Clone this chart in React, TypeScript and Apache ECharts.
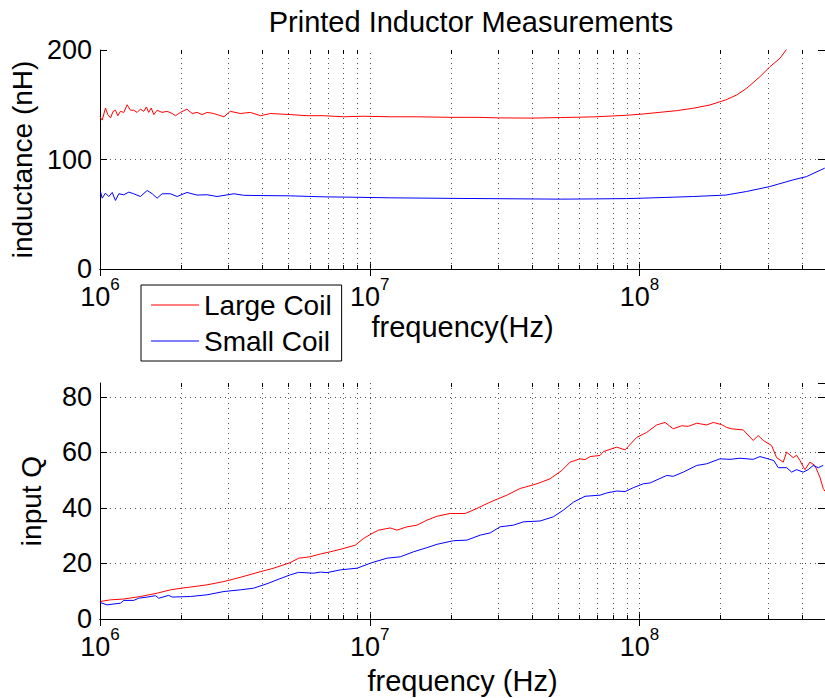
import React, { useEffect, useRef } from 'react';
import * as echarts from 'echarts';

const FONT = '"Liberation Sans", Arial, Helvetica, sans-serif';
const TITLE = 'Printed Inductor Measurements';
const NAME_LARGE = 'Large Coil';
const NAME_SMALL = 'Small Coil';
const X_MIN_HZ = 1e6;
const X_MAX_HZ = 4.87e8;
const L_MAX = 200;
const L_INTERVAL = 100;
const Q_MAX = 85;
const Q_INTERVAL = 20;

// [frequency (MHz), inductance (nH)]
const largeCoilL: number[][] = [
  [1.0, 139], [1.019, 136], [1.048, 147], [1.069, 141], [1.094, 138], [1.119, 144], [1.141, 145],
  [1.164, 140], [1.191, 144], [1.225, 143], [1.261, 150], [1.297, 145], [1.334, 145], [1.373, 143],
  [1.412, 146], [1.453, 144], [1.486, 148], [1.516, 143], [1.548, 147], [1.583, 141], [1.628, 145],
  [1.699, 143], [1.774, 144], [1.852, 142], [1.904, 140], [1.987, 143], [2.1, 146], [2.195, 142],
  [2.29, 143], [2.39, 141], [2.495, 143], [2.64, 142], [2.88, 139], [3.04, 144], [3.31, 142],
  [3.61, 143], [3.93, 140], [4.29, 142], [5.07, 141], [5.85, 140], [6.74, 140], [8.0, 139],
  [9.5, 139.5], [12, 139], [15, 139], [20, 138.5], [25, 138.5], [30, 138], [40, 137.8],
  [50.8, 138.3], [67.5, 138.9], [89.7, 140.4], [103.3, 141.6], [119.1, 143.1], [137.3, 144.6],
  [158.2, 146.8], [182.4, 149.8], [208.6, 154.4], [229, 158.9], [249.5, 165], [279.5, 175.6],
  [304.3, 184.7], [331.5, 192.4], [351, 200.6], [370, 208],
];

const smallCoilL: number[][] = [
  [1.004, 70.8], [1.019, 64.7], [1.048, 69.3], [1.078, 66.2], [1.11, 69.9], [1.141, 62.6],
  [1.174, 68.7], [1.225, 67.8], [1.279, 70.2], [1.334, 68.7], [1.412, 66.2], [1.496, 71.7],
  [1.561, 68.7], [1.628, 64.7], [1.699, 68.7], [1.824, 68.7], [1.932, 66.2], [2.1, 69.9],
  [2.29, 67.5], [2.495, 67.8], [2.716, 66.2], [3.14, 68.7], [3.41, 67.3], [3.82, 67.1],
  [5.07, 66.8], [6.74, 65.9], [8.97, 65.5], [11.9, 65], [20, 64.5], [30, 64.2], [50.8, 63.8],
  [67.5, 64.0], [89.7, 64.3], [103.3, 64.7], [158.2, 66.2], [208.6, 67.5], [249.5, 70.8],
  [304, 75.3], [371, 81.4], [416, 84.4], [486, 92.1],
];

// [frequency (MHz), input Q]
const largeCoilQ: number[][] = [
  [1.004, 6.3], [1.094, 6.9], [1.225, 7.2], [1.412, 8.1], [1.628, 9.3], [1.824, 10.5], [1.998, 11.1],
  [2.163, 11.5], [2.49, 12.3], [2.88, 13.5], [3.31, 15.0], [3.82, 16.7], [4.4, 18.3], [5.07, 20.3],
  [5.45, 21.9], [6.0, 22.4], [6.56, 23.4], [7.14, 24.2], [8.0, 25.4], [8.84, 26.6], [9.48, 29.0],
  [10.19, 30.8], [10.78, 32.0], [11.91, 32.8], [12.61, 32.0], [13.73, 33.2], [14.96, 33.8],
  [16.29, 35.6], [17.74, 37.0], [19.87, 38.0], [22.58, 38.0], [24.95, 39.8], [27.94, 42.1],
  [32.22, 44.6], [36.09, 47.0], [41.63, 48.7], [46.6, 50.5], [51.5, 53.5], [55.3, 56.5],
  [60.2, 57.7], [62.8, 57.4], [65.6, 58.5], [71.4, 58.9], [73.5, 60.3], [82.3, 61.9], [88.4, 60.9],
  [97.6, 65.4], [106.3, 67.2], [115.8, 69.9], [124.3, 70.8], [133.4, 68.5], [143.3, 69.6],
  [151.6, 69.4], [162.9, 70.5], [177.4, 69.9], [187.7, 70.8], [201.6, 70.0], [210.4, 69.0],
  [219.6, 68.5], [242.3, 68.1], [263.9, 64.3], [275.4, 66.1], [287.4, 64.3], [308.7, 62.5],
  [322.2, 58.1], [340.9, 56.5], [351, 60.1], [371.3, 58.1], [382, 59.0], [393, 57.1], [410.2, 53.8],
  [428, 56.5], [446.7, 55.3], [466.3, 51.1], [479.6, 47.0], [487, 46],
];

const smallCoilQ: number[][] = [
  [1.004, 5.9], [1.063, 5.1], [1.191, 5.7], [1.225, 6.7], [1.334, 6.7], [1.392, 7.5], [1.496, 7.9],
  [1.606, 8.4], [1.651, 7.5], [1.798, 8.5], [1.852, 7.9], [2.163, 8.1], [2.49, 8.7], [2.88, 9.9],
  [3.31, 10.5], [3.71, 11.1], [4.16, 12.7], [4.53, 14.1], [5.07, 15.9], [5.45, 16.8], [6.19, 16.5],
  [6.56, 16.9], [6.94, 16.7], [7.78, 17.7], [8.97, 18.3], [10.19, 20.3], [11.58, 21.9],
  [12.97, 22.4], [14.53, 24.2], [16.29, 25.7], [17.74, 26.9], [20.43, 28.2], [22.9, 28.4],
  [25.66, 30.2], [27.94, 31.0], [30.43, 33.2], [34.09, 33.8], [37.13, 35.0], [42.8, 35.3],
  [47.9, 36.8], [52.2, 39.2], [56.9, 42.1], [62.8, 44.2], [71.4, 44.6], [75.6, 45.4], [82.3, 46.1],
  [88.4, 45.9], [94.8, 47.3], [103.3, 48.7], [109.4, 49.0], [126.1, 51.7], [133.4, 51.4],
  [145.3, 52.9], [162.9, 55.3], [177.4, 55.9], [198.7, 57.7], [216.4, 57.5], [235.6, 57.9],
  [263.9, 57.5], [279.5, 58.5], [304.3, 57.5], [315, 57.0], [326.8, 54.5], [351, 54.5],
  [366.3, 52.9], [382.2, 53.8], [404.4, 52.9], [422, 53.8], [440.3, 55.3], [459.6, 54.5],
  [479.6, 55.3],
];

const toHz = (arr: number[][]) => arr.map(([f, v]) => [f * 1e6, v]);

// positions of log grid lines (k * 10^n)
const gridFreqs: number[] = [];
for (let e = 6; e <= 8; e++) {
  for (let k = 1; k <= 9; k++) {
    const f = k * Math.pow(10, e);
    if (f > X_MIN_HZ && f < X_MAX_HZ) gridFreqs.push(f);
  }
}
const minorFreqs = gridFreqs.filter((f) => Math.abs(Math.log10(f) - Math.round(Math.log10(f))) > 1e-9);

const RED = '#ff0000';
const BLUE = '#0000ff';
const DOT = { type: [1, 4] as any, color: '#555', width: 1 };

const tickLabel = {
  formatter: (v: number) => '{b|10}{s|' + Math.round(Math.log10(v)) + '}',
  rich: {
    b: { fontSize: 27, fontFamily: FONT, color: '#000', verticalAlign: 'bottom', lineHeight: 28 },
    s: { fontSize: 17, fontFamily: FONT, color: '#000', verticalAlign: 'bottom', lineHeight: 17, padding: [0, 0, 17, 0] },
  },
  margin: 13,
  showMinLabel: true,
  showMaxLabel: false,
};

function xAxes(gridIndex: number, name: string, nameGap: number) {
  return [
    {
      type: 'log', logBase: 10, gridIndex, min: X_MIN_HZ, max: X_MAX_HZ, position: 'bottom',
      name, nameLocation: 'middle', nameGap,
      nameTextStyle: { fontSize: 29, fontFamily: FONT, color: '#000' },
      axisLine: { show: true, lineStyle: { color: '#000', width: 1 } },
      axisTick: { show: true, inside: true, length: 7, lineStyle: { color: '#000' } },
      axisLabel: tickLabel,
      splitLine: { show: false },
    },
    {
      type: 'log', logBase: 10, gridIndex, min: X_MIN_HZ, max: X_MAX_HZ, position: 'top',
      axisLine: { show: true, lineStyle: { color: '#000', width: 1 } },
      axisTick: { show: true, inside: true, length: 7, lineStyle: { color: '#000' } },
      axisLabel: { show: false },
      splitLine: { show: false },
    },
  ];
}

function yAxes(gridIndex: number, max: number, interval: number, name: string) {
  return [
    {
      type: 'value', gridIndex, min: 0, max, interval, position: 'left',
      name, nameLocation: 'middle', nameGap: 55, nameRotate: 90,
      nameTextStyle: { fontSize: 28, fontFamily: FONT, color: '#000' },
      axisLine: { show: true, lineStyle: { color: '#000', width: 1 } },
      axisTick: { show: true, inside: true, length: 7, lineStyle: { color: '#000' } },
      axisLabel: { fontSize: 27, fontFamily: FONT, color: '#000', margin: 8, showMaxLabel: max % interval === 0 },
      splitLine: { show: true, showMinLine: false, showMaxLine: false, lineStyle: DOT },
    },
    {
      type: 'value', gridIndex, min: 0, max, interval, position: 'right',
      axisLine: { show: true, lineStyle: { color: '#000', width: 1 } },
      axisTick: { show: true, inside: true, length: 7, lineStyle: { color: '#000' } },
      axisLabel: { show: false },
      splitLine: { show: false },
    },
  ];
}

function helperSeries(xAxisIndex: number, yAxisIndex: number, yMax: number, unitsPerPx: number) {
  const len = 4 * unitsPerPx;
  const tickPairs: any[] = [];
  minorFreqs.forEach((f) => {
    tickPairs.push([{ coord: [f, 0] }, { coord: [f, len] }]);
    tickPairs.push([{ coord: [f, yMax] }, { coord: [f, yMax - len] }]);
  });
  return [
    {
      type: 'line', name: 'grid' + xAxisIndex, xAxisIndex, yAxisIndex, data: [], silent: true, z: 1,
      markLine: {
        silent: true, symbol: 'none', animation: false, label: { show: false }, z: 1,
        lineStyle: DOT,
        data: gridFreqs.map((f) => ({ xAxis: f })),
      },
    },
    {
      type: 'line', name: 'minor' + xAxisIndex, xAxisIndex, yAxisIndex, data: [], silent: true, z: 4,
      markLine: {
        silent: true, symbol: 'none', animation: false, label: { show: false }, z: 4,
        lineStyle: { type: 'solid', color: '#000', width: 1 },
        data: tickPairs,
      },
    },
  ];
}

function dataSeries(name: string, color: string, data: number[][], xAxisIndex: number, yAxisIndex: number) {
  return {
    type: 'line', name, xAxisIndex, yAxisIndex, data: toHz(data), symbol: 'none', showSymbol: false,
    clip: true, z: 3, lineStyle: { color, width: 1 }, itemStyle: { color },
  };
}

export default function App() {
  const ref = useRef<HTMLDivElement>(null);
  useEffect(() => {
    if (!ref.current) return;
    const chart = echarts.init(ref.current, null, { renderer: 'svg' });
    chart.setOption({
      animation: false,
      backgroundColor: '#fff',
      title: {
        text: TITLE, left: 466, top: 2, textAlign: 'center',
        textStyle: { fontSize: 29, fontWeight: 'normal', fontFamily: FONT, color: '#000' },
      },
      legend: {
        data: [NAME_LARGE, NAME_SMALL], orient: 'vertical', left: 141, top: 285,
        padding: [6, 10, 6, 10], itemGap: 8, itemWidth: 48, itemHeight: 1.2, icon: 'rect',
        backgroundColor: '#fff', borderColor: '#000', borderWidth: 1, borderRadius: 0,
        textStyle: { fontSize: 28, fontFamily: FONT, color: '#000', lineHeight: 28 },
        selectedMode: false,
      },
      grid: [
        { left: 100, top: 50, width: 725, height: 219, containLabel: false },
        { left: 100, top: 383, width: 725, height: 236, containLabel: false },
      ],
      xAxis: [...xAxes(0, 'frequency(Hz)', 43), ...xAxes(1, 'frequency (Hz)', 47)],
      yAxis: [...yAxes(0, L_MAX, L_INTERVAL, 'inductance (nH)'), ...yAxes(1, Q_MAX, Q_INTERVAL, 'input Q')],
      series: [
        ...helperSeries(0, 0, L_MAX, L_MAX / 219),
        ...helperSeries(2, 2, Q_MAX, Q_MAX / 236),
        dataSeries(NAME_LARGE, RED, largeCoilL, 0, 0),
        dataSeries(NAME_SMALL, BLUE, smallCoilL, 0, 0),
        dataSeries(NAME_LARGE, RED, largeCoilQ, 2, 2),
        dataSeries(NAME_SMALL, BLUE, smallCoilQ, 2, 2),
      ],
    });
    return () => chart.dispose();
  }, []);
  return (
    <div
      ref={ref}
      style={{ position: 'fixed', left: 0, top: 0, width: 825, height: 698, background: '#fff' }}
    />
  );
}
